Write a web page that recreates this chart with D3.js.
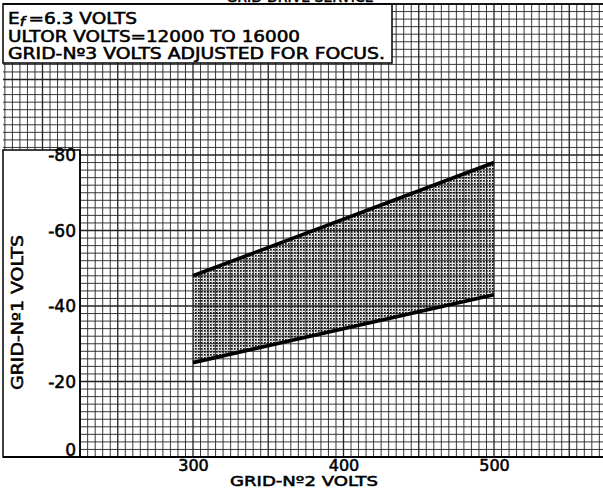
<!DOCTYPE html>
<html><head><meta charset="utf-8">
<script src="https://cdn.jsdelivr.net/npm/d3@7"></script>
<style>body{margin:0;background:#fff}svg{display:block}
.lbl{font-family:'DejaVu Sans',sans-serif;fill:#000;stroke:#000;stroke-width:0.55px}</style>
</head><body><svg id="c" width="603" height="488"></svg>
<script>
// Data
const gridVolts2 = [300, 500];          // Grid-No.2 volts (x)
const upperGrid1 = [-48, -78];          // upper boundary Grid-No.1 volts
const lowerGrid1 = [-25, -43];          // lower boundary Grid-No.1 volts
const xTicks = [300, 400, 500];
const yTicks = [0, -20, -40, -60, -80];
const notes = ["E", "ULTOR VOLTS=12000 TO 16000", "GRID-Nº3 VOLTS ADJUSTED FOR FOCUS."];
const xTitle = "GRID-Nº2 VOLTS";
const yTitle = "GRID-Nº1 VOLTS";
const topTitle = "GRID-DRIVE SERVICE";

const svg = d3.select("#c");
const x = d3.scaleLinear().domain([300, 500]).range([193, 494]);
const y = d3.scaleLinear().domain([0, -80]).range([457, 155]);
const L = 3, R = 603, T = y(-120), B = y(0);

// pattern for stipple
const defs = svg.append("defs");
const pat = defs.append("pattern").attr("id","stip").attr("patternUnits","userSpaceOnUse")
  .attr("width",3).attr("height",3);
pat.append("rect").attr("x",0).attr("y",0).attr("width",1.7).attr("height",1.7).attr("fill","#111");
pat.append("rect").attr("x",1.5).attr("y",1.5).attr("width",1).attr("height",1).attr("fill","#444");

// grid
const g = svg.append("g");
const vx = d3.range(170, 580, 5).filter(v => x(v) >= L && x(v) <= R);
g.selectAll(".v").data(vx).join("line")
  .attr("x1", d => x(d)).attr("x2", d => x(d)).attr("y1", T).attr("y2", B)
  .attr("stroke", "#222").attr("stroke-width", d => d % 50 === 0 ? 1.3 : 0.9);
const hy = d3.range(0, -121, -2);
g.selectAll(".h").data(hy).join("line")
  .attr("x1", L).attr("x2", R).attr("y1", d => y(d)).attr("y2", d => y(d))
  .attr("stroke", "#222").attr("stroke-width", d => d % 20 === 0 ? 1.3 : 0.9);

// shaded region
const pts = gridVolts2.map((v,i)=>[x(v), y(upperGrid1[i])])
  .concat(gridVolts2.map((v,i)=>[x(v), y(lowerGrid1[i])]).reverse());
svg.append("path").attr("d", d3.line()(pts) + "Z").attr("fill", "url(#stip)");
const ln = d3.line().x((d,i)=>x(gridVolts2[i])).y(d=>y(d));
svg.append("path").attr("d", ln(upperGrid1)).attr("stroke","#000").attr("stroke-width",3.6).attr("fill","none");
svg.append("path").attr("d", ln(lowerGrid1)).attr("stroke","#000").attr("stroke-width",3.6).attr("fill","none");

// boxes
svg.append("rect").attr("x", L).attr("y", T).attr("width", 389).attr("height", 59)
  .attr("fill","#fff").attr("stroke","#000").attr("stroke-width",1.5);
svg.append("rect").attr("x", L).attr("y", 150).attr("width", 77).attr("height", B-150)
  .attr("fill","#fff").attr("stroke","#000").attr("stroke-width",1.5);
svg.append("line").attr("x1",L).attr("x2",R).attr("y1",T).attr("y2",T).attr("stroke","#000").attr("stroke-width",1.5);
svg.append("line").attr("x1",L).attr("x2",R).attr("y1",B).attr("y2",B).attr("stroke","#000").attr("stroke-width",2);
svg.append("line").attr("x1",80).attr("x2",80).attr("y1",150).attr("y2",B).attr("stroke","#000").attr("stroke-width",1.5);

// notes text
const nt = svg.append("g").attr("class","lbl").attr("font-size", 15);
const t0 = nt.append("text").attr("x", 8).attr("y", 24).attr("textLength", 129).attr("lengthAdjust","spacingAndGlyphs");
t0.append("tspan").text("E");
t0.append("tspan").attr("font-size", 12).attr("font-style","italic").attr("dy", 2).text("f");
t0.append("tspan").attr("dy", -2).attr("dx", 3).text("=6.3 VOLTS");
nt.append("text").attr("x", 8).attr("y", 42).attr("textLength", 292).attr("lengthAdjust","spacingAndGlyphs").text(notes[1]);
nt.append("text").attr("x", 8).attr("y", 59).attr("textLength", 377).attr("lengthAdjust","spacingAndGlyphs").text(notes[2]);

// partial top title (cut by the top edge, as in the source scan)
svg.append("text").attr("class","lbl").attr("x", 300).attr("y", 2).attr("text-anchor","middle")
  .attr("font-size", 14).text(topTitle);

// axes
const ya = svg.append("g").attr("transform", `translate(80,0)`)
  .call(d3.axisLeft(y).tickValues(yTicks).tickSize(0).tickPadding(4)
    .tickFormat(d => d === 0 ? "0" : "-" + Math.abs(d)));
ya.select(".domain").remove();
ya.selectAll("text").attr("class","lbl").attr("font-size", 17)
  .attr("dy", d => d === 0 ? "-0.1em" : "0.35em");
const xa = svg.append("g").attr("transform", `translate(0,${B})`)
  .call(d3.axisBottom(x).tickValues(xTicks).tickSize(0).tickPadding(3).tickFormat(d3.format("d")));
xa.select(".domain").remove();
xa.selectAll("text").attr("class","lbl").attr("font-size", 16);

svg.append("text").attr("class","lbl").attr("x", 230).attr("y", 486).attr("textLength", 148).attr("lengthAdjust","spacingAndGlyphs")
  .attr("font-size", 14).text(xTitle);
svg.append("text").attr("class","lbl").attr("transform","translate(23,390) rotate(-90)").attr("textLength", 155).attr("lengthAdjust","spacingAndGlyphs")
  .attr("font-size", 16).text(yTitle);
</script></body></html>
